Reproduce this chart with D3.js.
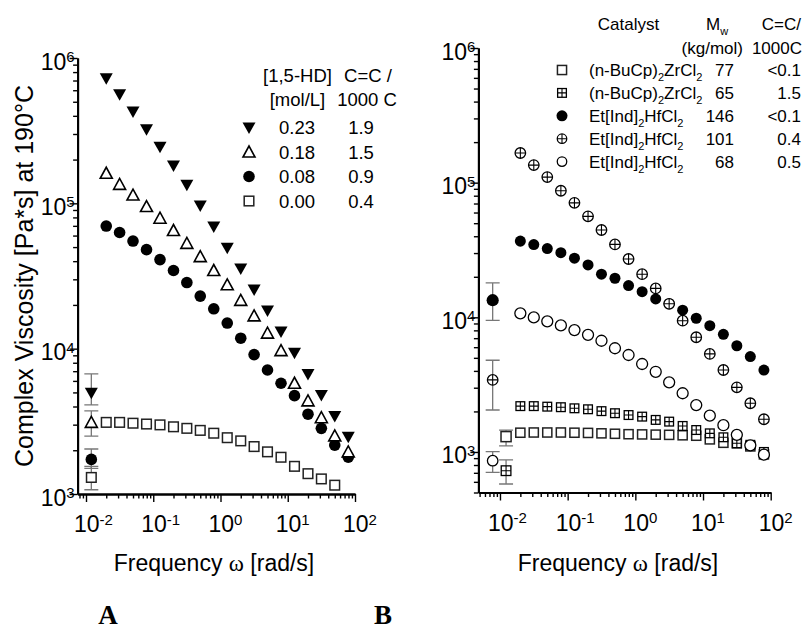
<!DOCTYPE html>
<html>
<head>
<meta charset="utf-8">
<script src="https://cdn.jsdelivr.net/npm/d3@7"></script>
<style>
body { margin: 0; background: #fff; }
svg text { fill: #000; }
</style>
</head>
<body>
<div id="chart"></div>
<script>

// oscillatory sweep, 5 points per decade (rad/s)
var freq = [0.02, 0.0316, 0.05, 0.0794, 0.126, 0.2, 0.316, 0.5, 0.794, 1.26, 2, 3.16, 5, 7.94, 12.6, 20, 31.6, 50, 79.4];

// panel A : [1,5-HD] in mol/L
var hdConc = ["0.23", "0.18", "0.08", "0.00"];
var hdCC = ["1.9", "1.5", "0.9", "0.4"];
var etaHD023 = [726000, 564000, 428000, 324000, 245000, 182000, 134000, 96600, 69200, 49500, 35600, 25500, 18300, 13100, 9380, 6700, 4800, 3440, 2480];
var etaHD018 = [161000, 135000, 114000, 95000, 79000, 65000, 53000, 43000, 34500, 27500, 21500, 16800, 12800, 9700, 5780, 4370, 3350, 2510, 1950];
var etaHD008 = [69800, 63000, 55000, 48000, 41000, 34500, 28500, 23000, 18800, 15000, 11800, 9100, 7130, 5780, 4750, 3540, 2830, 2170, 1790];
var etaHD000 = [3110, 3110, 3070, 3030, 2990, 2900, 2830, 2740, 2620, 2440, 2320, 2120, 1950, 1790, 1550, 1380, 1270, 1150, null];
// single low frequency point per sample, with error bar
var lowFreqA = 0.012;
var lowEtaA = [4980, 3110, 1730, 1300];
var lowMinA = [4100, 2500, 1500, 1070];
var lowMaxA = [6700, 3730, 2040, 1550];

// panel B : catalysts
var catName = [["(n-BuCp)", "ZrCl"], ["(n-BuCp)", "ZrCl"], ["Et[Ind]", "HfCl"], ["Et[Ind]", "HfCl"], ["Et[Ind]", "HfCl"]];
var catMw = ["77", "65", "146", "101", "68"];
var catCC = ["<0.1", "1.5", "<0.1", "0.4", "0.5"];
var etaZr77 = [1390, 1395, 1395, 1395, 1390, 1385, 1375, 1365, 1355, 1350, 1345, 1340, 1330, 1320, 1240, 1170, 1160, 1100, 960];
var etaZr65 = [2190, 2190, 2170, 2150, 2110, 2075, 2010, 1940, 1880, 1830, 1730, 1680, 1560, 1455, 1375, 1285, 1160, 1130, 1000];
var etaHf146 = [36800, 34700, 32400, 30200, 27500, 24500, 20900, 19500, 17200, 15500, 13700, 12600, 11300, 9840, 8670, 7480, 6150, 5110, 4060];
var etaHf101 = [166000, 135000, 110000, 87100, 70800, 56200, 44500, 34800, 27100, 20900, 16400, 12600, 9440, 7110, 5350, 4060, 3020, 2300, 1750];
var etaHf68 = [10700, 9980, 9330, 8710, 8040, 7410, 6700, 5890, 5250, 4500, 3940, 3290, 2730, 2230, 1860, 1580, 1340, 1120, 955];
var lowFreqB = [0.0123, 0.0123, 0.0078, 0.0078, 0.0078];
var lowEtaB = [1300, 726, 13400, 3430, 861];
var lowMinB = [1108, 578, 9500, 2050, 706];
var lowMaxB = [1455, 873, 18000, 4800, 1005];

var sans = "'Liberation Sans', Arial, sans-serif";
var serif = "'Liberation Serif', 'Times New Roman', serif";

var svg = d3.select("#chart").append("svg")
  .attr("width", 802)
  .attr("height", 641)
  .style("font-family", sans);

function logTicks(lo, hi) {
  var major = [], minor = [];
  for (var e = Math.floor(Math.log10(lo)); e <= Math.ceil(Math.log10(hi)); e++) {
    for (var m = 1; m < 10; m++) {
      var v = m * Math.pow(10, e);
      if (v < lo * 0.999 || v > hi * 1.001) continue;
      if (m == 1) major.push(v); else minor.push(v);
    }
  }
  return {major: major, minor: minor};
}

function supLabel(text, v) {
  var e = Math.round(Math.log10(v));
  text.text("10");
  text.append("tspan")
    .attr("dy", "-0.5em")
    .attr("font-size", "15px")
    .text(e);
}

// draw one marker centred at 0,0
function marker(g, type, s) {
  s = s || 1;
  if (type == "triDown") {
    g.append("path").attr("d", "M" + (-6.5*s) + "," + (-5*s) + "L" + (6.5*s) + "," + (-5*s) + "L0," + (6.5*s) + "Z")
      .attr("fill", "#000");
  } else if (type == "triUp") {
    g.append("path").attr("d", "M" + (-6*s) + "," + (5*s) + "L" + (6*s) + "," + (5*s) + "L0," + (-6*s) + "Z")
      .attr("fill", "#fff").attr("stroke", "#000").attr("stroke-width", 1.6);
  } else if (type == "dot") {
    g.append("circle").attr("r", 5.8*s).attr("fill", "#000");
  } else if (type == "circle") {
    g.append("circle").attr("r", 5*s).attr("fill", "#fff").attr("stroke", "#000").attr("stroke-width", 1.3);
  } else if (type == "square") {
    g.append("rect").attr("x", -4.8*s).attr("y", -4.8*s).attr("width", 9.6*s).attr("height", 9.6*s)
      .attr("fill", "#fff").attr("stroke", "#222").attr("stroke-width", 1.5);
  } else if (type == "squarePlus") {
    g.append("rect").attr("x", -4.6*s).attr("y", -4.6*s).attr("width", 9.2*s).attr("height", 9.2*s)
      .attr("fill", "#fff").attr("stroke", "#000").attr("stroke-width", 1.3);
    g.append("path").attr("d", "M" + (-4.6*s) + ",0H" + (4.6*s) + "M0," + (-4.6*s) + "V" + (4.6*s))
      .attr("stroke", "#000").attr("stroke-width", 1.1);
  } else if (type == "circlePlus") {
    g.append("circle").attr("r", 5*s).attr("fill", "#fff").attr("stroke", "#000").attr("stroke-width", 1.3);
    g.append("path").attr("d", "M" + (-5*s) + ",0H" + (5*s) + "M0," + (-5*s) + "V" + (5*s))
      .attr("stroke", "#000").attr("stroke-width", 1.1);
  }
}

function drawAxes(x, y) {
  var xt = logTicks(x.domain()[0], x.domain()[1]);
  var yt = logTicks(y.domain()[0], y.domain()[1]);
  var y0 = y.range()[0], x0 = x.range()[0];

  var gx = svg.append("g").attr("transform", "translate(0," + y0 + ")");
  gx.append("g").call(d3.axisBottom(x).tickValues(xt.minor).tickSize(4.5).tickSizeOuter(0).tickFormat(""));
  var xm = gx.append("g").call(d3.axisBottom(x).tickValues(xt.major).tickSize(8).tickSizeOuter(0));
  xm.selectAll("text")
    .attr("font-size", "23px")
    .attr("text-anchor", "start")
    .attr("x", -12.5)
    .attr("y", 38)
    .attr("dy", null)
    .each(function(d) { supLabel(d3.select(this), d); });

  var gy = svg.append("g").attr("transform", "translate(" + x0 + ",0)");
  gy.append("g").call(d3.axisLeft(y).tickValues(yt.minor).tickSize(4.5).tickSizeOuter(0).tickFormat(""));
  var ym = gy.append("g").call(d3.axisLeft(y).tickValues(yt.major).tickSize(8).tickSizeOuter(0));
  ym.selectAll("text")
    .attr("font-size", "23px")
    .attr("x", -3)
    .attr("y", 11)
    .attr("dy", null)
    .each(function(d) { supLabel(d3.select(this), d); });

  svg.selectAll("g[font-family]").attr("font-family", null);
  svg.selectAll(".domain").attr("stroke-width", 2);
  svg.selectAll(".tick line").attr("stroke-width", 1.4);
}

function drawSeries(x, y, vals, type, s) {
  var pts = freq.map(function(f, i) { return {f: f, v: vals[i]}; }).filter(function(d) { return d.v != null; });
  svg.append("g").selectAll("g")
    .data(pts)
    .enter().append("g")
    .attr("transform", function(d) { return "translate(" + x(d.f) + "," + y(d.v) + ")"; })
    .each(function() { marker(d3.select(this), type, s); });
}

function drawErr(x, y, f, v, lo, hi, type, s) {
  var g = svg.append("g");
  var cx = x(f);
  g.append("path")
    .attr("d", "M" + cx + "," + y(lo) + "V" + y(hi) +
      "M" + (cx - 7) + "," + y(lo) + "H" + (cx + 7) +
      "M" + (cx - 7) + "," + y(hi) + "H" + (cx + 7))
    .attr("stroke", "#777").attr("stroke-width", 1.3).attr("fill", "none");
  var m = g.append("g").attr("transform", "translate(" + cx + "," + y(v) + ")");
  marker(m, type, s);
}

function omegaTitle(cx, gap) {
  var t = svg.append("text").attr("x", cx).attr("y", 571).attr("text-anchor", "middle").attr("font-size", "23px");
  t.append("tspan").text("Frequency" + gap);
  t.append("tspan").style("font-family", serif).text("ω");
  t.append("tspan").text(" [rad/s]");
}

// ---------- panel A ----------
var xA = d3.scaleLog().domain([0.0075, 100]).range([77.6, 355]);
var yA = d3.scaleLog().domain([1000, 1e6]).range([494, 58]);
var typesA = ["triDown", "triUp", "dot", "square"];

drawAxes(xA, yA);
drawSeries(xA, yA, etaHD000, "square");
drawSeries(xA, yA, etaHD008, "dot");
drawSeries(xA, yA, etaHD018, "triUp");
drawSeries(xA, yA, etaHD023, "triDown");
[3, 2, 1, 0].forEach(function(i) {
  drawErr(xA, yA, lowFreqA, lowEtaA[i], lowMinA[i], lowMaxA[i], typesA[i]);
});

svg.append("text")
  .attr("transform", "translate(33,276) rotate(-90)")
  .attr("text-anchor", "middle")
  .attr("font-size", "25px")
  .text("Complex Viscosity [Pa*s] at 190°C");

omegaTitle(214, " ");

// legend A
var legA = svg.append("g").attr("font-size", "18.5px");
legA.append("text").attr("x", 297.5).attr("y", 82).attr("text-anchor", "middle").text("[1,5-HD]");
legA.append("text").attr("x", 297.5).attr("y", 106).attr("text-anchor", "middle").text("[mol/L]");
legA.append("text").attr("x", 368).attr("y", 82).attr("text-anchor", "middle").text("C=C /");
legA.append("text").attr("x", 367).attr("y", 106).attr("text-anchor", "middle").text("1000 C");
hdConc.forEach(function(c, i) {
  var yy = 134 + i * 24.5;
  marker(legA.append("g").attr("transform", "translate(249," + (yy - 6.5) + ")"), typesA[i]);
  legA.append("text").attr("x", 297).attr("y", yy).attr("text-anchor", "middle").text(c);
  legA.append("text").attr("x", 361).attr("y", yy).attr("text-anchor", "middle").text(hdCC[i]);
});

// ---------- panel B ----------
var xB = d3.scaleLog().domain([0.0048, 100]).range([478.4, 770.7]);
var yB = d3.scaleLog().domain([500, 1e6]).range([492.5, 48]);
var typesB = ["square", "squarePlus", "dot", "circlePlus", "circle"];

drawAxes(xB, yB);
drawSeries(xB, yB, etaZr77, "square", 0.95);
drawSeries(xB, yB, etaZr65, "squarePlus", 0.95);
drawSeries(xB, yB, etaHf68, "circle", 1.1);
drawSeries(xB, yB, etaHf146, "dot", 0.95);
drawSeries(xB, yB, etaHf101, "circlePlus", 1.05);
[0, 1, 2, 3, 4].forEach(function(i) {
  drawErr(xB, yB, lowFreqB[i], lowEtaB[i], lowMinB[i], lowMaxB[i], typesB[i], 1.05);
});

omegaTitle(618, "  ");

// legend B
var legB = svg.append("g").attr("font-size", "17px");
legB.append("text").attr("x", 628.5).attr("y", 29.5).attr("text-anchor", "middle").text("Catalyst");
var mw = legB.append("text").attr("x", 706).attr("y", 29.5);
mw.append("tspan").text("M");
mw.append("tspan").attr("font-size", "11px").attr("dy", 5).text("w");
legB.append("text").attr("x", 801).attr("y", 29.5).attr("text-anchor", "end").text("C=C/");
legB.append("text").attr("x", 743).attr("y", 53.5).attr("text-anchor", "end").text("(kg/mol)");
legB.append("text").attr("x", 802).attr("y", 53.5).attr("text-anchor", "end").text("1000C");
catName.forEach(function(n, i) {
  var yy = 76 + i * 22.9;
  marker(legB.append("g").attr("transform", "translate(562," + (yy - 6) + ")"), typesB[i], 0.95);
  var t = legB.append("text").attr("x", 589).attr("y", yy);
  t.append("tspan").text(n[0]);
  t.append("tspan").attr("font-size", "11px").attr("dy", 5).text("2");
  t.append("tspan").attr("dy", -5).text(n[1]);
  t.append("tspan").attr("font-size", "11px").attr("dy", 5).text("2");
  legB.append("text").attr("x", 734).attr("y", yy).attr("text-anchor", "end").text(catMw[i]);
  legB.append("text").attr("x", 801).attr("y", yy).attr("text-anchor", "end").text(catCC[i]);
});

// panel letters
["A", "B"].forEach(function(l, i) {
  svg.append("text").attr("x", i ? 383 : 108).attr("y", 624).attr("text-anchor", "middle")
    .style("font-family", serif).attr("font-weight", "bold").attr("font-size", "27px").text(l);
});

</script>
</body>
</html>
